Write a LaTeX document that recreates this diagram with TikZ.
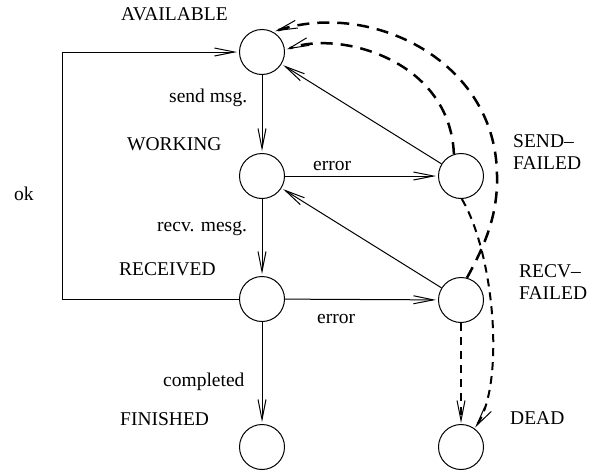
\documentclass[tikz,border=0pt]{standalone}
\usepackage{fontspec}
\setmainfont{Liberation Serif}
\usetikzlibrary{arrows.meta}
\begin{document}
\begin{tikzpicture}[x=1pt,y=-1pt,
  state/.style={circle,draw,line width=1pt,minimum size=45pt,inner sep=0pt},
  lbl/.style={font=\fontsize{19.5}{22}\selectfont,inner sep=0pt,anchor=base west},
  multilbl/.style={font=\fontsize{19.5}{22}\selectfont,inner sep=0pt,anchor=west,align=left},
  barb/.style={-{Straight Barb[length=20pt,width=8pt,line width=1pt]}},
  trans/.style={line width=1pt,barb,shorten >=2pt},
  longdash/.style={line width=2.5pt,dash pattern=on 12pt off 8pt,barb,shorten >=2pt},
  shortdash/.style={line width=2pt,dash pattern=on 8pt off 6pt,barb,shorten >=1pt}]
\useasboundingbox (0,0) rectangle (593,474);

% states
\node[state] (av) at (262,52) {};
\node[state] (wk) at (262,176) {};
\node[state] (rc) at (262,299) {};
\node[state] (fn) at (262,447) {};
\node[state] (sf) at (461,176) {};
\node[state] (rf) at (461,300) {};
\node[state] (dd) at (461,447) {};

% state names
\node[lbl] (tav) at (121,20) {AVAILABLE};
\node[lbl] (twk) at (127,150.5) {WORKING};
\node[lbl] (trc) at (119,275.5) {RECEIVED};
\node[lbl] (tfn) at (120,425.5) {FINISHED};
\node[multilbl] (tsf) at (513,152) {SEND–\\FAILED};
\node[multilbl] (trf) at (519,282) {RECV–\\FAILED};
\node[lbl] (tdd) at (510,424.5) {DEAD};

% transition labels
\node[lbl] (lsend) at (169,102) {send msg.};
\node[lbl] (lrecv) at (157,231) {recv. mesg.};
\node[lbl] (lcomp) at (163,386) {completed};
\node[lbl] (lok) at (14,200) {ok};
\node[lbl] (lerr1) at (313,170) {error};
\node[lbl] (lerr2) at (317,323) {error};

% normal transitions
\draw[trans] (av) -- (wk);
\draw[trans] (wk) -- (rc);
\draw[trans] (rc) -- (fn);
\draw[trans] (wk) -- (sf);
\draw[trans] (rc) -- (rf);
\draw[trans] (sf) -- (av);
\draw[trans] (rf) -- (wk);
\draw[trans] (rc.west) -- ++(-177,0) |- (av.west);

% retries and give-ups
\draw[longdash] (sf.108) .. controls (450,60) and (340,30) .. (av.5);
\draw[longdash] (rf.75) .. controls (485,245) and (498,215) .. (497,175)
  .. controls (496,60) and (370,0) .. (av.61);
\draw[shortdash] (sf.-88) .. controls (495,255) and (505,385) .. (dd.54);
\draw[shortdash] (rf) -- (dd);
\end{tikzpicture}
\end{document}
